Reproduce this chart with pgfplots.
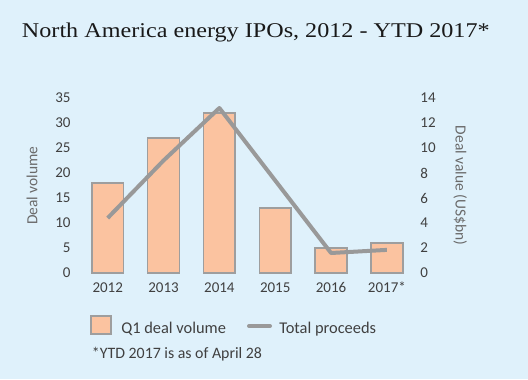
\documentclass[border=0pt]{standalone}
\usepackage{pgfplots}
\pgfplotsset{compat=1.18}
\usepackage{fontspec}
\setmainfont{Carlito}
\newfontfamily\titlefont[FakeStretch=1.15]{Liberation Serif}
\definecolor{bg}{HTML}{DFF1FB}
\definecolor{peach}{HTML}{FBC3A0}
\definecolor{bordergray}{HTML}{9E9E9E}
\definecolor{linegray}{HTML}{999999}
\definecolor{ticktext}{HTML}{404040}
\definecolor{labeltext}{HTML}{6A6A6A}
\begin{document}
\begin{tikzpicture}
\begin{scope}[x=0.75pt,y=-0.75pt]
\fill[bg] (0,0) rectangle (528,379);
\node[anchor=base west, inner sep=0pt, font=\titlefont\fontsize{15.75}{18}\selectfont, text=black!90] at (21.7,37.7) {North America energy IPOs, 2012 - YTD 2017*};
\end{scope}
\pgfplotsset{every tick label/.append style={font=\fontsize{11.25}{13}\selectfont, text=ticktext}, /pgf/number format/assume math mode=true}
\begin{axis}[
 at={(59.85pt,-204.75pt)}, anchor=south west,
 scale only axis, width=251.25pt, height=131.25pt,
 xmin=-0.5, xmax=5.5, ymin=0, ymax=35,
 axis line style={draw=none}, major tick length=0pt,
 xtick=data, xticklabels={2012,2013,2014,2015,2016,2017*},
 ytick={0,5,...,35},
 xticklabel style={anchor=north, inner sep=0pt, yshift=-6.75pt},
 yticklabel style={anchor=east, inner sep=0pt, xshift=-6.8pt},
 ylabel={Deal volume},
 ylabel style={at={(axis description cs:-0.1427,0.5)}, anchor=center, font=\fontsize{11.6}{13}\selectfont, text=labeltext},
 ybar, bar width=23.8pt,
 clip=false,
]
\addplot[fill=peach, draw=bordergray, line width=1.2pt] coordinates {(0,18) (1,27) (2,32) (3,13) (4,5) (5,6)};
\end{axis}
\begin{axis}[
 at={(59.85pt,-204.75pt)}, anchor=south west,
 scale only axis, width=251.25pt, height=131.25pt,
 xmin=-0.5, xmax=5.5, ymin=0, ymax=14,
 axis y line*=right, hide x axis,
 axis line style={draw=none}, major tick length=0pt,
 ytick={0,2,...,14},
 yticklabel style={anchor=west, inner sep=0pt, xshift=4pt},
 ylabel={Deal value (US\$bn)},
 ylabel style={at={(axis description cs:1.1355,0.5)}, anchor=center, rotate=180, font=\fontsize{11.6}{13}\selectfont, text=labeltext},
 clip=false,
]
\addplot[linegray, line width=3pt, mark=none, line join=round] coordinates {(0,4.4) (1,9.0) (2,13.2) (3,7.4) (4,1.6) (5,1.85)};
\end{axis}
\begin{scope}[x=0.75pt,y=-0.75pt]
\draw[fill=peach, draw=bordergray, line width=1.2pt] (91,316) rectangle (111,334);
\node[anchor=base west, inner sep=0pt, font=\fontsize{12.3}{14}\selectfont, text=ticktext] at (121,333) {Q1 deal volume};
\draw[linegray, line width=3pt, line cap=round] (249,326) -- (270,326);
\node[anchor=base west, inner sep=0pt, font=\fontsize{12.3}{14}\selectfont, text=ticktext] at (279,333) {Total proceeds};
\node[anchor=base west, inner sep=0pt, font=\fontsize{11.9}{14}\selectfont, text=ticktext] at (91.7,358) {*YTD 2017 is as of April 28};
\end{scope}
\end{tikzpicture}
\end{document}
